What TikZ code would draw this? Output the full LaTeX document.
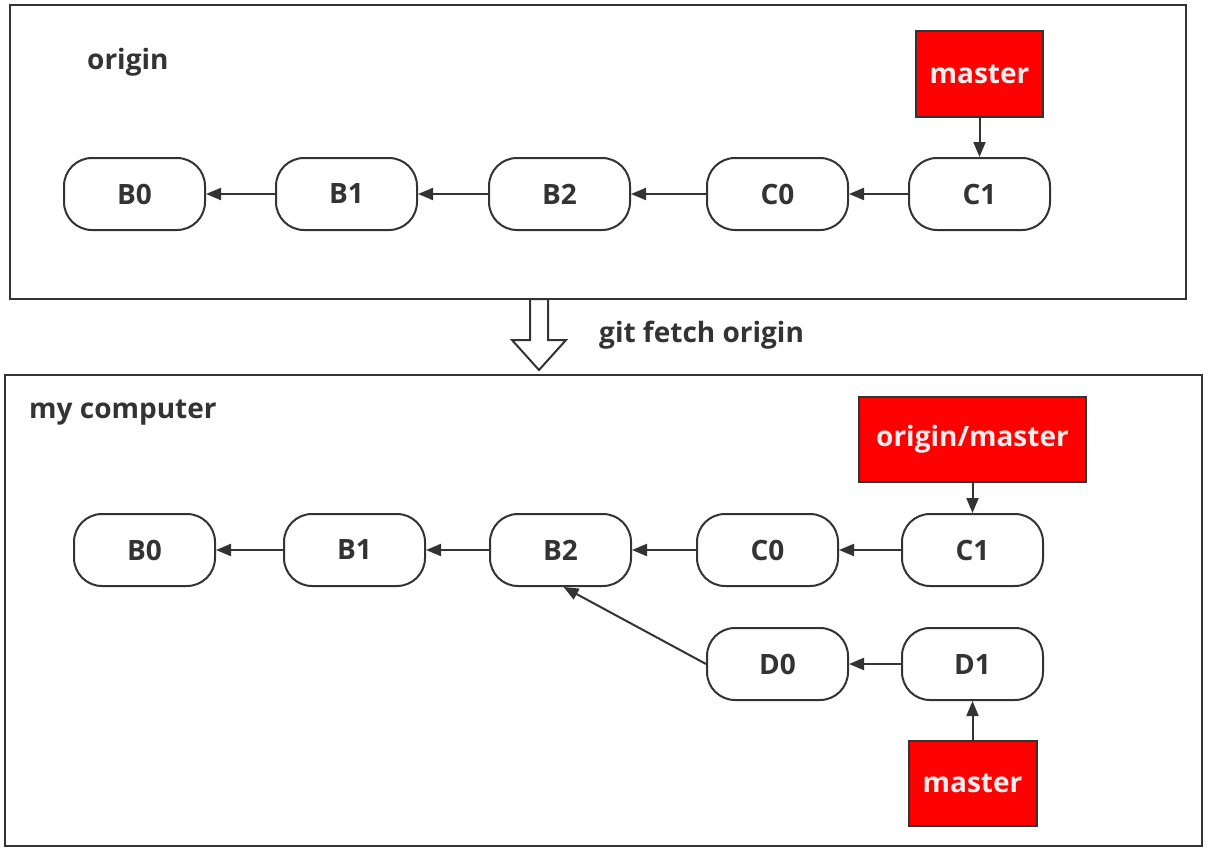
\documentclass[tikz,border=0pt]{standalone}
\usepackage{fontspec}
\setmainfont{Open Sans}
\usetikzlibrary{arrows.meta}
\definecolor{ink}{HTML}{333333}
\definecolor{redbox}{HTML}{FF0000}
\definecolor{lighttxt}{HTML}{EEEEEE}
\begin{document}
\begin{tikzpicture}[x=1pt,y=-1pt,
  commit/.style={draw=ink,line width=2pt,rounded corners=28pt,minimum width=141pt,minimum height=72pt,inner sep=0pt,
    font=\fontsize{28}{30}\selectfont\bfseries,text=ink,fill=white},
  refbox/.style={draw=ink,line width=2pt,fill=redbox,inner sep=0pt,
    font=\fontsize{28}{30}\selectfont\bfseries,text=lighttxt},
  lbl/.style={font=\fontsize{28}{30}\selectfont\bfseries,text=ink,inner sep=0pt},
  frame/.style={draw=ink,line width=2pt},
  link/.style={draw=ink,line width=2pt,-{Triangle[length=15pt,width=12pt]}}]
\useasboundingbox (0,0) rectangle (1208,851);
% top frame
\draw[frame] (10,5) rectangle (1186,299);
\node[lbl,anchor=west] (origlbl) at (87,62) {origin};
\node[commit] (tB0) at (134.5,194) {B0};
\node[commit] (tB1) at (346.5,194) {B1};
\node[commit] (tB2) at (559.5,194) {B2};
\node[commit] (tC0) at (777.5,194) {C0};
\node[commit] (tC1) at (979.5,194) {C1};
\node[refbox,minimum width=127pt,minimum height=86pt] (tM) at (979.5,74) {master};
\draw[link] (tB1.west) -- (tB0.east);
\draw[link] (tB2.west) -- (tB1.east);
\draw[link] (tC0.west) -- (tB2.east);
\draw[link] (tC1.west) -- (tC0.east);
\draw[link] (tM.south) -- (tC1.north);
% fetch arrow
\draw[frame,fill=white,line join=miter] (530,299) -- (548,299) -- (548,340) -- (566,340) -- (539,370) -- (512,340) -- (530,340) -- cycle;
\node[lbl,anchor=west] (fetch) at (599,335) {git fetch origin};
% bottom frame
\draw[frame] (5,375) rectangle (1202,846);
\node[lbl,anchor=west] (mylbl) at (29,413) {my computer};
\node[commit] (bB0) at (144.5,550) {B0};
\node[commit] (bB1) at (354.5,550) {B1};
\node[commit] (bB2) at (560.5,550) {B2};
\node[commit] (bC0) at (767.5,550) {C0};
\node[commit] (bC1) at (972.5,550) {C1};
\node[commit] (bD0) at (777.5,664) {D0};
\node[commit] (bD1) at (972.5,664) {D1};
\node[refbox,minimum width=227pt,minimum height=85pt] (bOM) at (972.5,439.5) {origin/master};
\node[refbox,minimum width=128pt,minimum height=85pt] (bM) at (972.5,783.5) {master};
\draw[link] (bB1.west) -- (bB0.east);
\draw[link] (bB2.west) -- (bB1.east);
\draw[link] (bC0.west) -- (bB2.east);
\draw[link] (bC1.west) -- (bC0.east);
\draw[link] (bOM.south) -- (bC1.north);
\draw[link] (bD1.west) -- (bD0.east);
\draw[link] (bD0.west) -- ([xshift=3pt]bB2.south);
\draw[link] (bM.north) -- (bD1.south);
\end{tikzpicture}
\end{document}
